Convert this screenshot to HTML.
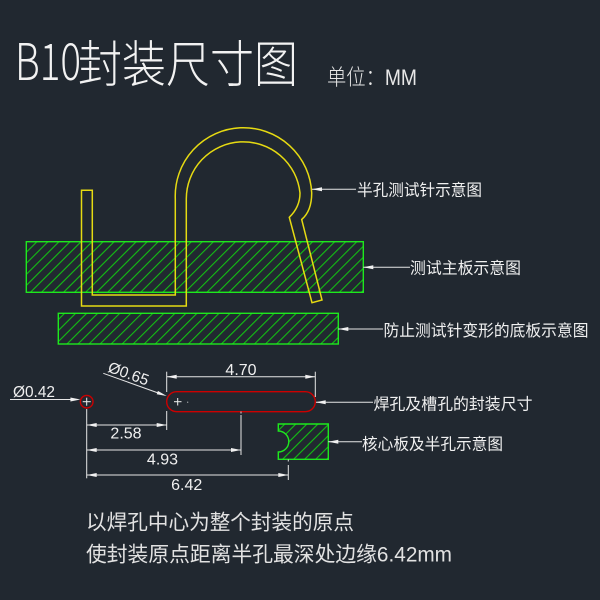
<!DOCTYPE html>
<html><head><meta charset="utf-8">
<style>
html,body{margin:0;padding:0;background:#212830;}
svg{display:block;}
text{font-family:"Liberation Sans","Noto Sans CJK SC",sans-serif;}
</style></head>
<body>
<svg width="600" height="600" viewBox="0 0 600 600" xmlns="http://www.w3.org/2000/svg">
<defs>
<pattern id="h" patternUnits="userSpaceOnUse" width="7.8" height="20" patternTransform="rotate(45)">
<line x1="2" y1="-1" x2="2" y2="21" stroke="#13c013" stroke-width="1.1"/>
</pattern>
</defs>
<rect width="600" height="600" fill="#212830"/>

<!-- Title -->
<text x="15" y="80" font-size="51" fill="#f2f2f2" font-weight="300" style="font-family:'Noto Sans CJK SC','Liberation Sans',sans-serif" textLength="66" lengthAdjust="spacingAndGlyphs">B10</text>
<text x="78" y="82" font-size="50" fill="#f2f2f2" font-weight="300" textLength="220" lengthAdjust="spacingAndGlyphs">封装尺寸图</text>
<text x="327" y="85" font-size="22" fill="#e8e8e8" font-weight="300" textLength="90" lengthAdjust="spacingAndGlyphs">单位：MM</text>

<!-- Boards -->
<rect x="26.3" y="241.7" width="337" height="50.6" fill="url(#h)" stroke="#1ee81e" stroke-width="1.4"/>
<rect x="58.3" y="313.3" width="280" height="30.7" fill="url(#h)" stroke="#1ee81e" stroke-width="1.4"/>

<!-- Pin -->
<path d="M81.5,190.3 H92.3 V295 H175.3 V199 A68.2,68.2 0 1 1 311.7,193 Q311.7,211 301.7,219.5 L322,300 L312,302.7 L289.3,217.3 Q300,207 300,193 A57,57 0 0 0 186.3,199 V306 H81.5 Z" fill="none" stroke="#e6da12" stroke-width="1.5" stroke-linejoin="miter"/>

<!-- Core board with half hole -->
<path d="M278.3,424 H328.3 V459.3 H278.3 V452 A10.5,10.5 0 0 0 278.3,431 Z" fill="url(#h)" stroke="#1ee81e" stroke-width="1.4"/>

<!-- Leaders -->
<g stroke="#e6e6e6" stroke-width="1" fill="none">
<line x1="312" y1="189.3" x2="356" y2="189.3"/>
<line x1="363.3" y1="267.3" x2="410" y2="267.3"/>
<line x1="338.3" y1="329" x2="383" y2="329"/>
<line x1="315.7" y1="402.3" x2="373" y2="402.3"/>
<line x1="328.3" y1="441.7" x2="362" y2="441.7"/>
</g>
<g fill="#f0f0f0">
<polygon points="312,189.3 322,187.3 322,191.3"/>
<polygon points="363.3,267.3 373.3,265.3 373.3,269.3"/>
<polygon points="338.3,329 348.3,327 348.3,331"/>
<polygon points="315.7,402.3 325.7,400.3 325.7,404.3"/>
<polygon points="328.3,441.7 338.3,439.7 338.3,443.7"/>
</g>
<g fill="#f0f0f0" font-size="16">
<text x="357" y="195.5" textLength="125" lengthAdjust="spacingAndGlyphs">半孔测试针示意图</text>
<text x="410" y="273.5" textLength="111" lengthAdjust="spacingAndGlyphs">测试主板示意图</text>
<text x="383.5" y="336" textLength="205" lengthAdjust="spacingAndGlyphs">防止测试针变形的底板示意图</text>
<text x="373.5" y="409.5" textLength="159" lengthAdjust="spacingAndGlyphs">焊孔及槽孔的封装尺寸</text>
<text x="362" y="449.5" textLength="141" lengthAdjust="spacingAndGlyphs">核心板及半孔示意图</text>
</g>

<!-- Holes -->
<circle cx="86.7" cy="401.7" r="6.3" fill="none" stroke="#cc0000" stroke-width="1.4"/>
<rect x="166.7" y="391.7" width="148.6" height="20" rx="10" ry="10" fill="none" stroke="#cc0000" stroke-width="1.4"/>
<g stroke="#f0f0f0" stroke-width="1">
<line x1="82.7" y1="401.7" x2="90.7" y2="401.7"/>
<line x1="86.7" y1="397.7" x2="86.7" y2="405.7"/>
<line x1="174" y1="401.7" x2="181.5" y2="401.7"/>
<line x1="177.7" y1="398" x2="177.7" y2="405.5"/>
</g>
<rect x="187.2" y="401.7" width="1" height="1" fill="#ddd"/>

<!-- Diameter leaders -->
<g stroke="#e6e6e6" stroke-width="1">
<line x1="10" y1="399.5" x2="76" y2="399.5"/>
<line x1="103.3" y1="373.3" x2="160" y2="393.6"/>
</g>
<polygon points="80.4,399.5 70.4,397.5 70.4,401.5" fill="#f0f0f0"/>
<polygon points="166.7,396 157.9,390.9 156.7,394.3" fill="#f0f0f0"/>
<text x="13" y="397" font-size="15.5" fill="#f0f0f0" textLength="42" lengthAdjust="spacingAndGlyphs">Ø0.42</text>
<text x="107" y="371.5" font-size="15.5" fill="#f0f0f0" transform="rotate(19.7 107 371.5)" textLength="42" lengthAdjust="spacingAndGlyphs">Ø0.65</text>

<!-- Extension lines -->
<g stroke="#e6e6e6" stroke-width="1">
<line x1="166.7" y1="371.7" x2="166.7" y2="392"/>
<line x1="166.7" y1="411" x2="166.7" y2="430"/>
<line x1="315.3" y1="371.7" x2="315.3" y2="397"/>
<line x1="86.7" y1="409" x2="86.7" y2="478.3"/>
<line x1="241" y1="415" x2="241" y2="455"/>
<line x1="288.3" y1="465" x2="288.3" y2="480"/>
<!-- dim lines -->
<line x1="166.7" y1="376.7" x2="315.3" y2="376.7"/>
<line x1="86.7" y1="425" x2="166.7" y2="425"/>
<line x1="86.7" y1="450" x2="241" y2="450"/>
<line x1="86.7" y1="475" x2="288.3" y2="475"/>
</g>
<rect x="240.5" y="411.5" width="1" height="2" fill="#ddd"/>
<rect x="287.8" y="459.5" width="1" height="2" fill="#ddd"/>
<g fill="#f0f0f0">
<polygon points="166.7,376.7 176.7,374.7 176.7,378.7"/>
<polygon points="315.3,376.7 305.3,374.7 305.3,378.7"/>
<polygon points="86.7,425 96.7,423 96.7,427"/>
<polygon points="166.7,425 156.7,423 156.7,427"/>
<polygon points="86.7,450 96.7,448 96.7,452"/>
<polygon points="241,450 231,448 231,452"/>
<polygon points="86.7,475 96.7,473 96.7,477"/>
<polygon points="288.3,475 278.3,473 278.3,477"/>
</g>
<g fill="#f0f0f0" font-size="16" text-anchor="middle">
<text x="241" y="375">4.70</text>
<text x="126" y="438.5">2.58</text>
<text x="162.5" y="464.5">4.93</text>
<text x="186.7" y="490">6.42</text>
</g>

<!-- Bottom notes -->
<text x="86" y="529.5" font-size="21" fill="#e2e2e2" textLength="268" lengthAdjust="spacingAndGlyphs">以焊孔中心为整个封装的原点</text>
<text x="86" y="561.5" font-size="21" fill="#e2e2e2" textLength="366" lengthAdjust="spacingAndGlyphs">使封装原点距离半孔最深处边缘6.42mm</text>
</svg>
</body></html>
